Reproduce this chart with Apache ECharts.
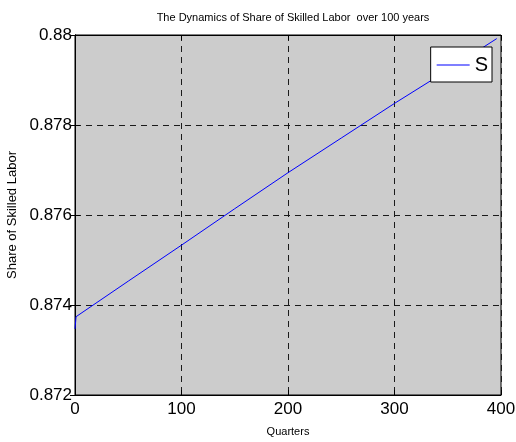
<!DOCTYPE html>
<html>
<head>
<meta charset="utf-8">
<script src="https://cdn.jsdelivr.net/npm/echarts@6/dist/echarts.min.js"></script>
<style>
  html, body { margin: 0; padding: 0; background: #fff; }
  #chart { width: 516px; height: 442px; }
</style>
</head>
<body>
<div id="chart"></div>
<script>
  // values
  var quarters = [0, 1, 50, 100, 150, 200, 250, 300, 350, 396];
  var shareS = [0.87347, 0.87374, 0.87453, 0.87533, 0.87614, 0.87694, 0.87771, 0.87848, 0.87922, 0.87992];
  var xTicks = [0, 100, 200, 300, 400];
  var yTicks = [0.872, 0.874, 0.876, 0.878, 0.88];

  var font = "'Liberation Sans', Arial, sans-serif";
  var pts = quarters.map(function (q, i) { return [q, shareS[i]]; });

  var myCharts = echarts.init(document.getElementById('chart'));
  var option = {
    animation: false,
    title: {
      text: 'The Dynamics of Share of Skilled Labor  over 100 years',
      left: 288,
      textAlign: 'center',
      top: 7,
      textStyle: { fontSize: 11, fontWeight: 'normal', color: '#000', fontFamily: font }
    },
    legend: {
      data: [{ name: 'S', icon: 'rect' }],
      right: 24,
      top: 47,
      orient: 'vertical',
      backgroundColor: '#fff',
      borderColor: '#000',
      borderWidth: 1,
      borderRadius: 0,
      padding: [8, 4, 7, 6],
      itemWidth: 33,
      itemHeight: 1,
      textStyle: { fontSize: 20, color: '#000', fontFamily: font }
    },
    grid: {
      left: 75,
      top: 35,
      width: 426,
      height: 360,
      outerBoundsMode: 'none',
      containLabel: false,
      show: true,
      backgroundColor: '#cccccc',
      borderColor: '#000',
      borderWidth: 1
    },
    xAxis: [{
      type: 'value',
      min: 0,
      max: 400,
      interval: 100,
      name: 'Quarters',
      nameLocation: 'middle',
      nameGap: 31,
      nameTextStyle: { fontSize: 11, color: '#000', fontFamily: font },
      axisLine: { show: true, lineStyle: { color: '#000' } },
      axisTick: { inside: true, length: 5, lineStyle: { color: '#000' } },
      axisLabel: { fontSize: 17, color: '#000', fontFamily: font, margin: 6 },
      splitLine: { show: true, lineStyle: { color: '#1a1a1a', type: [6, 5] } }
    }, {
      type: 'value',
      position: 'top',
      min: 0,
      max: 400,
      interval: 100,
      axisLine: { show: true, lineStyle: { color: '#000' } },
      axisTick: { inside: true, length: 5, lineStyle: { color: '#000' } },
      axisLabel: { show: false },
      splitLine: { show: false }
    }],
    yAxis: [{
      type: 'value',
      min: 0.872,
      max: 0.88,
      interval: 0.002,
      name: 'Share of Skilled Labor',
      nameLocation: 'middle',
      nameGap: 54,
      nameTextStyle: { fontSize: 13, color: '#000', fontFamily: font },
      axisLine: { show: true, lineStyle: { color: '#000' } },
      axisTick: { inside: true, length: 5, lineStyle: { color: '#000' } },
      axisLabel: {
        fontSize: 17, color: '#000', fontFamily: font, margin: 3,
        formatter: function (v) { return String(parseFloat(v.toFixed(3))); }
      },
      splitLine: { show: true, lineStyle: { color: '#1a1a1a', type: [6, 5] } }
    }, {
      type: 'value',
      position: 'right',
      min: 0.872,
      max: 0.88,
      interval: 0.002,
      axisLine: { show: true, lineStyle: { color: '#000' } },
      axisTick: { inside: true, length: 5, lineStyle: { color: '#000' } },
      axisLabel: { show: false },
      splitLine: { show: false }
    }],
    series: [{
      name: 'S',
      type: 'line',
      data: pts,
      symbol: 'none',
      lineStyle: { color: '#0000ff', width: 1 },
      itemStyle: { color: '#0000ff' }
    }]
  };
  myCharts.setOption(option);
</script>
</body>
</html>
